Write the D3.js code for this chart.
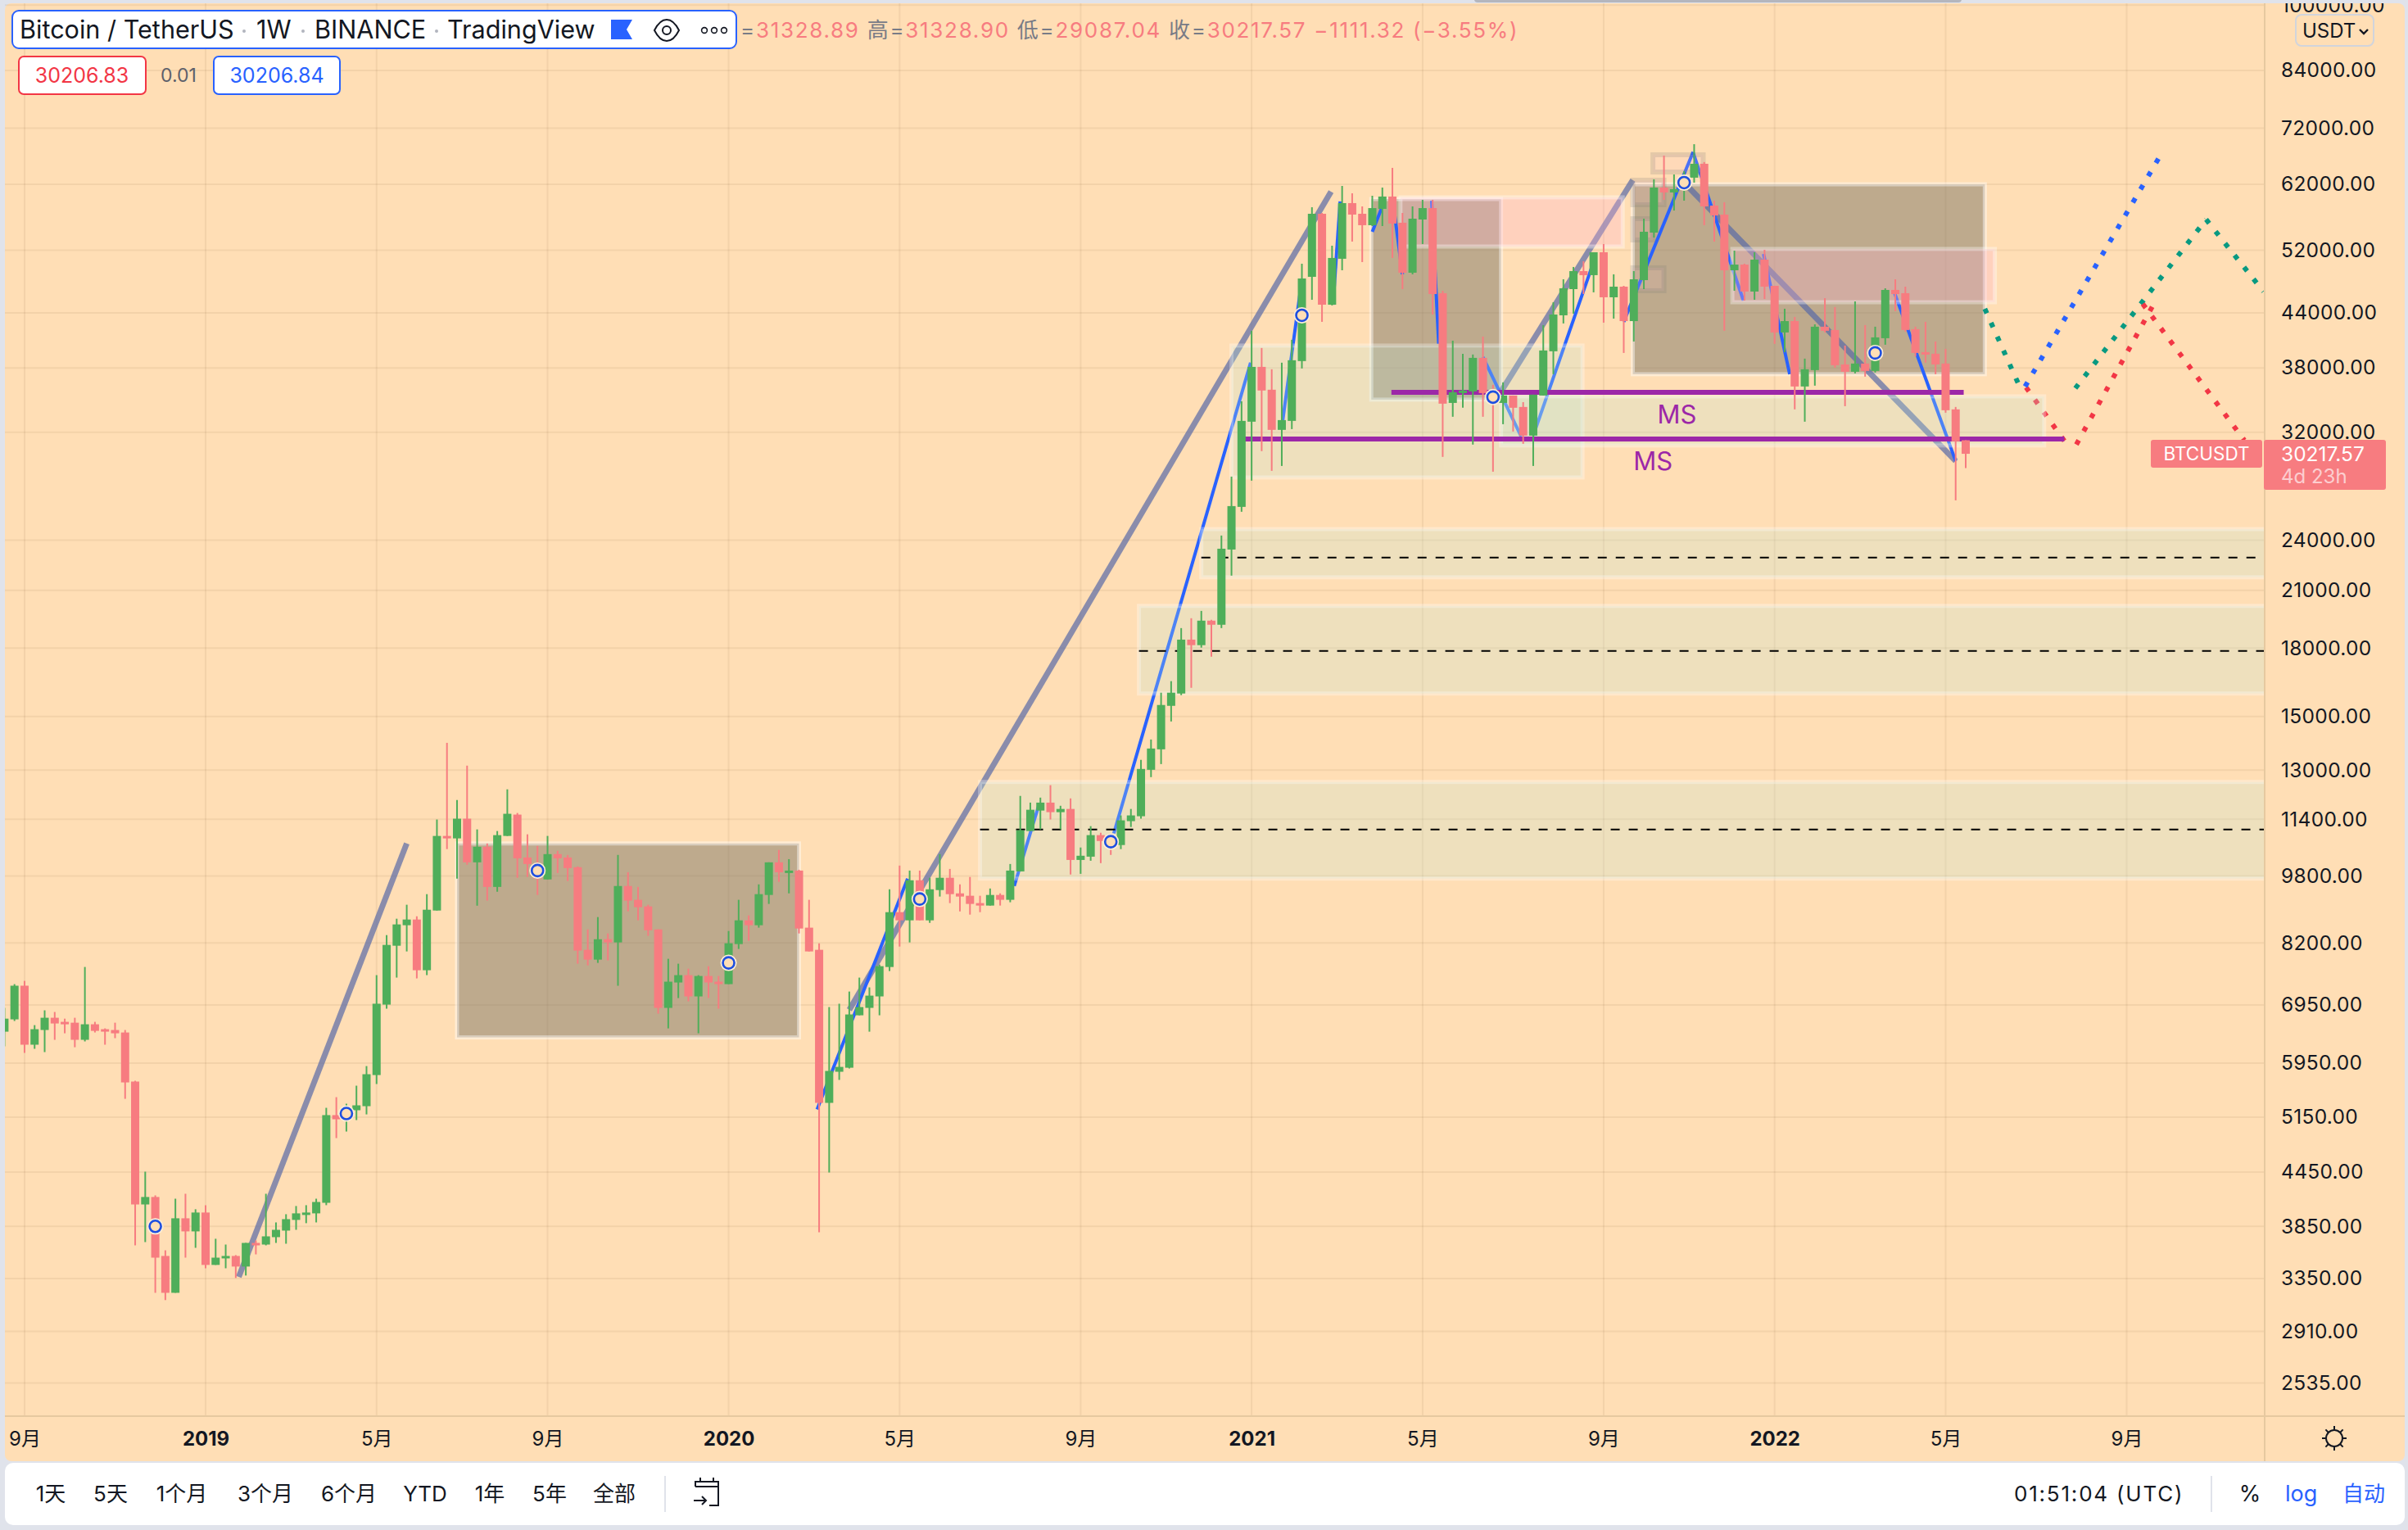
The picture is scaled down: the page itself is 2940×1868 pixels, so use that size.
<!DOCTYPE html>
<html>
<head>
<meta charset="utf-8">
<script src="https://cdnjs.cloudflare.com/ajax/libs/d3/7.8.5/d3.min.js"></script>
<style>
html, body { margin: 0; padding: 0; background: #e0e3eb; }
svg { display: block; }
text { font-family: Inter, "Noto Sans CJK SC", sans-serif; fill: #131722; }
</style>
</head>
<body>
<div id="chart"></div>
<script>
const WIDTH = 2940;
const HEIGHT = 1868;
const PLOT_LEFT = 6;
const PLOT_RIGHT = 2765;
const PLOT_TOP = 4;
const PLOT_BOTTOM = 1729;
const PANEL_RIGHT = 2936;
const PANEL_BOTTOM = 1784;

const BG = '#ffdeb5';
const GREEN = '#4fae5a';
const RED = '#f77c80';
const BLUE = '#2962ff';
const TEAL = '#089981';
const CRIMSON = '#f23645';
const PURPLE = '#9c27a8';

// weekly candles, one entry per week
const opens = [
  6471,6687,7315,6250,6500,6716,6643,6628,6332,6600,
  6514,6500,6457,5665,4082,4164,3558,3225,3934,3799,
  3995,3474,3535,3558,3459,3684,3668,3741,3807,3917,
  3977,3986,4100,5180,5135,5248,5305,5764,6955,8138,
  8595,8727,7623,8939,10906,10835,11420,10165,10597,9520,
  10906,11545,10298,10120,9712,10390,10298,10033,8050,7842,
  8280,8210,9543,9198,9038,8500,6895,7378,7524,7109,
  7507,7394,7346,8174,8708,8595,9318,10165,9900,9944,
  8540,8050,5352,5815,5878,6760,6895,7109,7689,8900,
  8708,9690,8708,9440,9755,9358,9298,9118,9058,9318,
  9198,9922,11050,11670,11920,11620,11720,10230,10320,10930,
  10860,10645,11345,11495,13010,13740,15430,15945,18410,18140,
  19365,19155,23410,26230,32920,38100,35850,32210,32990,38695,
  48445,57315,44975,50835,58970,57315,55595,58065,60010,55960,
  48980,56445,58190,46375,34610,35530,35690,39030,35690,34610,
  35300,34240,31720,35300,39720,43720,46880,49190,48660,51725,
  45870,47190,43050,48020,54510,61465,60670,61330,63110,65490,
  58580,57190,49300,50050,46580,50720,47295,41765,43050,36160,
  37775,42410,42040,38350,37610,38440,37690,41130,46780,46375,
  42130,39630,39460,38440,34020,31328.89
];
const highs = [
  6895,7346,7410,6585,6850,6820,6700,6716,7690,6643,
  6528,6628,6500,5677,4455,4182,3612,4145,4200,4030,
  4074,3725,3668,3566,3684,3708,4200,3891,3977,4065,
  4074,4145,5282,5434,5340,5603,5904,7524,8372,8746,
  9078,8803,9338,11395,13980,12000,13155,11098,10690,11050,
  12350,11595,10954,10620,10906,10483,10368,10055,8500,8784,
  8409,10368,9900,9520,9078,8500,7859,7757,7655,7524,
  7706,7507,8464,9198,8823,9585,10165,10506,10252,9966,
  9198,8192,6910,6972,7202,7475,7282,7740,9460,10077,
  9944,9944,9755,10390,9988,9585,9776,9298,9480,9358,
  10120,12135,11920,12080,12487,11820,12055,10575,11195,11000,
  10906,11520,11720,13360,14105,15980,16480,18985,19490,19875,
  19405,24300,28435,34760,41950,40070,37860,38530,40950,50170,
  58320,57440,52640,61730,60535,58450,60140,61465,64780,57440,
  58450,59480,59480,46680,40860,39460,39380,41310,36320,36560,
  35300,34685,35380,42590,45270,48125,49735,50500,51725,52870,
  48770,47295,49190,56570,62830,66930,63650,64210,69000,65790,
  59350,59100,51950,50170,51725,52060,47295,44490,43530,38950,
  42680,45770,44690,40330,45370,42590,42410,46985,48125,47190,
  42410,42965,40770,39980,34240,31328.90
];
const lows = [
  6222,6658,6115,6182,6128,6332,6443,6208,6305,6457,
  6250,6360,5410,3660,3692,3225,3163,3225,3542,3636,
  3443,3474,3443,3355,3377,3573,3660,3684,3676,3815,
  3883,3891,4074,4872,4958,5112,5190,5628,6880,7475,
  8015,7458,7524,8939,10530,9733,10100,9055,9178,9398,
  10906,9755,9776,9318,9712,9880,9670,7757,7723,7774,
  7825,7314,8920,8708,8355,6790,6528,7078,7016,6443,
  7078,6880,7346,8068,8245,8540,9098,9650,9358,8409,
  8015,3790,4445,5690,5866,6760,6471,6760,7606,8120,
  8210,8708,8650,9278,9118,8920,8842,8900,9058,9058,
  9138,9922,11050,11098,11395,11098,9840,9858,10208,10143,
  10368,10530,11170,11420,12758,13210,14800,15875,16190,18020,
  17590,18985,21835,25890,28130,30435,28875,29255,32275,37940,
  45570,42965,44880,49300,53220,50390,55470,55470,50945,46880,
  48765,52870,43815,29970,33355,34165,30970,33355,28810,32700,
  32070,31035,29255,35300,37365,42780,43910,46270,46480,42870,
  43335,39545,40770,46880,53800,59480,57810,59350,62280,55595,
  53220,41950,46680,45470,45570,45670,40510,39630,34020,32920,
  36240,41765,38020,34310,37445,37120,37530,40420,44200,41860,
  39200,38530,37365,33720,26690,29087.04
];
const closes = [
  6700,7315,6250,6514,6716,6614,6600,6332,6600,6485,
  6485,6443,5652,4082,4164,3542,3225,3934,3799,3995,
  3474,3542,3558,3459,3684,3668,3749,3815,3925,3986,
  3995,4109,5180,5123,5260,5317,5777,6972,8156,8614,
  8727,7623,8958,10906,10835,11420,10165,10597,9520,10930,
  11570,10275,10120,9733,10390,10275,10010,8033,7842,8280,
  8210,9543,9178,9018,8480,6895,7394,7524,7109,7507,
  7378,7346,8192,8708,8595,9338,10165,9900,9944,8520,
  8015,5352,5828,5891,6775,6910,7124,7706,8900,8708,
  9690,8708,9460,9755,9338,9278,9098,9058,9318,9198,
  9944,11074,11695,11920,11620,11720,10230,10345,10930,10760,
  10668,11370,11520,13040,13770,15465,15980,18410,18140,19365,
  19155,23460,26285,32990,38100,35775,32210,33060,38780,48230,
  57315,44975,50945,58970,57190,55595,58190,60010,55840,48980,
  56570,58190,46270,34540,35610,35770,39030,35530,34610,35300,
  34165,31720,35380,39805,43815,46985,49190,48660,51725,45870,
  47190,43050,48125,54630,61465,60670,61200,62960,65490,58450,
  57060,49300,50050,46580,50720,47190,41765,43050,36160,37860,
  42410,41950,38270,37610,38440,37690,41220,46780,46270,42040,
  39545,39380,38350,33940,31240,30217.57
];

const priceTicks = [100000,84000,72000,62000,52000,44000,38000,32000,24000,21000,18000,15000,13000,11400,9800,8200,6950,5950,5150,4450,3850,3350,2910,2535];
const timeTickBars = [2,20,37,54,72,89,107,124,141,159,176,193,211];
const timeTickLabels = ['9月','2019','5月','9月','2020','5月','9月','2021','5月','9月','2022','5月','9月'];

// drawings, as [start bar, end bar, top price, bottom price]
const brownBoxes = [[45,79,10690,6373],[135.9,148.8,59610,34915],[161.9,196.9,62000,37365]];
const yellowBoxes = [[122,156.9,40330,28370],[148.8,202.8,35220,30900],[119,226,24720,21740],[112.8,226,20140,15945],[97,226,12595,9733]];
const pinkBoxes = [[138.8,160.9,59880,52525],[171.8,197.9,52185,45270]];
const smallBoxes = [[163.9,168.9,67080,64070],[161.9,165,62690,58710],[161.9,163.9,56570,53450],[161.9,165,49630,46680]];

// drawings, as [start bar, start price, end bar, end price]
const greyLines = [
  [23.3,3365,40,10690],
  [84,6860,131.9,60800],
  [148.2,34760,161.9,62700],
  [167.1,62100,194,29640]
];
const blueLines = [
  [80.8,5260,89.8,9733],[100.4,9543,102.8,11795],[110.3,10980,123.9,38530],[127.1,33060,129,48120],
  [132.1,44975,132.8,59230],[136,54630,136.9,58065],[138.2,57440,139,48770],[141.9,59350,142.6,40510],
  [147,39120,150.8,31650],[152,31720,157.8,49630],[161,42970,167.9,67600],[167.9,67460,172.9,45470],
  [174.9,51500,177.5,37360],[187.9,46480,194,29640]
];
const blueDots = [[200.9,36160,214.2,66500]];
const tealDots = [[196.9,44490,200.5,35850],[205.9,35990,218.9,56450],[218.9,56450,224.6,46580]];
const redDots = [[201,36080,205.3,30700],[206,30970,213.7,45070],[212.6,45070,222.7,31330]];
const purpleLines = [[137.9,194.8,35600],[123.3,204.8,31440]];
const dashedLines = [[119,226,22910],[112.8,226,17860],[97,226,11098]];
const msBars = [166.3,163.9];
const msPrices = [33575,29640];
const markerBars = [15,34,53,72,91,110,129,148,167,186];
const markerPrices = [3850,5202,9944,7774,9218,10740,43720,35150,62280,39545];

const xScale = d3.scaleLinear().domain([0, 226]).range([5.4, 5.4 + 226 * 12.28]);
const yScale = d3.scaleLog().domain([84000, 3350]).range([86, 1561]);

const svg = d3.select('#chart').append('svg').attr('width', WIDTH).attr('height', HEIGHT);
const defs = svg.append('defs');
defs.append('clipPath').attr('id', 'plotClip').append('rect')
  .attr('x', PLOT_LEFT).attr('y', PLOT_TOP).attr('width', PLOT_RIGHT - PLOT_LEFT).attr('height', PLOT_BOTTOM - PLOT_TOP);
defs.append('clipPath').attr('id', 'panelClip').append('rect')
  .attr('x', PLOT_LEFT).attr('y', PLOT_TOP).attr('width', PANEL_RIGHT - PLOT_LEFT).attr('height', PANEL_BOTTOM - PLOT_TOP);

// something sits just above the screenshot
svg.append('rect').attr('x', 1800).attr('y', -6).attr('width', 595).attr('height', 9).attr('rx', 4).attr('fill', '#b4b6be');

// panels
svg.append('rect').attr('x', PLOT_LEFT).attr('y', PLOT_TOP).attr('width', PANEL_RIGHT - PLOT_LEFT)
  .attr('height', PANEL_BOTTOM - PLOT_TOP).attr('rx', 8).attr('fill', BG);
svg.append('rect').attr('x', PLOT_LEFT).attr('y', 1786).attr('width', PANEL_RIGHT - PLOT_LEFT)
  .attr('height', 76).attr('rx', 10).attr('fill', '#fff');

const plot = svg.append('g').attr('clip-path', 'url(#plotClip)');

// grid
plot.selectAll('.hgrid').data(priceTicks).enter().append('line').attr('class', 'hgrid')
  .attr('x1', PLOT_LEFT).attr('x2', PLOT_RIGHT)
  .attr('y1', d => yScale(d)).attr('y2', d => yScale(d))
  .attr('stroke', 'rgba(120,90,50,0.09)').attr('stroke-width', 2);
plot.selectAll('.vgrid').data(timeTickBars).enter().append('line').attr('class', 'vgrid')
  .attr('y1', PLOT_TOP).attr('y2', PLOT_BOTTOM)
  .attr('x1', d => xScale(d)).attr('x2', d => xScale(d))
  .attr('stroke', 'rgba(120,90,50,0.09)').attr('stroke-width', 2);

function drawBoxes(data, fill, stroke, strokeWidth) {
  plot.append('g').selectAll('rect').data(data).enter().append('rect')
    .attr('x', d => xScale(d[0]))
    .attr('y', d => yScale(d[2]))
    .attr('width', d => xScale(d[1]) - xScale(d[0]))
    .attr('height', d => yScale(d[3]) - yScale(d[2]))
    .attr('fill', fill)
    .attr('stroke', stroke)
    .attr('stroke-width', strokeWidth);
}

function drawSegments(data, color, width, dash) {
  plot.append('g').selectAll('line').data(data).enter().append('line')
    .attr('x1', d => xScale(d[0]))
    .attr('y1', d => yScale(d[1]))
    .attr('x2', d => xScale(d[2]))
    .attr('y2', d => yScale(d[3]))
    .attr('stroke', color)
    .attr('stroke-width', width)
    .attr('stroke-dasharray', dash || null);
}

drawBoxes(brownBoxes, 'rgba(125,118,101,0.5)', 'rgba(255,255,255,0.42)', 5);

drawSegments(greyLines, 'rgba(89,106,166,0.7)', 7);
drawSegments(blueLines, BLUE, 4);
drawSegments(tealDots, TEAL, 6, '6 12.6');
drawSegments(redDots, CRIMSON, 6, '6 12.6');
drawSegments(blueDots, BLUE, 6, '6 12.6');

drawBoxes(yellowBoxes, 'rgba(187,230,215,0.25)', 'rgba(255,255,255,0.3)', 5);
drawBoxes(pinkBoxes, 'rgba(255,179,209,0.3)', 'rgba(255,255,255,0.35)', 5);
drawBoxes(smallBoxes, 'rgba(255,190,200,0.16)', 'rgba(120,120,120,0.2)', 6);

// support lines
plot.append('g').selectAll('line').data(purpleLines).enter().append('line')
  .attr('x1', d => xScale(d[0])).attr('x2', d => xScale(d[1]))
  .attr('y1', d => yScale(d[2])).attr('y2', d => yScale(d[2]))
  .attr('stroke', PURPLE).attr('stroke-width', 6);
plot.append('g').selectAll('line').data(dashedLines).enter().append('line')
  .attr('x1', d => xScale(d[0])).attr('x2', d => xScale(d[1]))
  .attr('y1', d => yScale(d[2])).attr('y2', d => yScale(d[2]))
  .attr('stroke', '#000').attr('stroke-width', 2).attr('stroke-dasharray', '11 11');
plot.append('g').selectAll('text').data(msBars).enter().append('text')
  .attr('x', d => xScale(d)).attr('y', (d, i) => yScale(msPrices[i]))
  .attr('text-anchor', 'middle').attr('dominant-baseline', 'central')
  .attr('font-size', 31).style('fill', PURPLE).text('MS');

// candles
const candles = plot.append('g').selectAll('g').data(opens).enter().append('g')
  .attr('fill', (d, i) => closes[i] >= d ? GREEN : RED)
  .attr('stroke', (d, i) => closes[i] >= d ? GREEN : RED);
candles.append('line')
  .attr('x1', (d, i) => xScale(i)).attr('x2', (d, i) => xScale(i))
  .attr('y1', (d, i) => yScale(highs[i])).attr('y2', (d, i) => yScale(lows[i]))
  .attr('stroke-width', 2);
candles.append('rect')
  .attr('stroke', 'none')
  .attr('x', (d, i) => xScale(i) - 5)
  .attr('width', 10)
  .attr('y', (d, i) => yScale(Math.max(d, closes[i])))
  .attr('height', (d, i) => Math.max(3, yScale(Math.min(d, closes[i])) - yScale(Math.max(d, closes[i]))));

// markers on top of the candles
const markers = plot.append('g').selectAll('g').data(markerBars).enter().append('g')
  .attr('transform', (d, i) => `translate(${xScale(d)},${yScale(markerPrices[i])})`);
markers.append('circle').attr('r', 10).attr('fill', '#fdeed6');
markers.append('circle').attr('r', 7).attr('fill', BG).attr('stroke', '#1e4fe0').attr('stroke-width', 2.6);

// axes
svg.append('line').attr('x1', PLOT_RIGHT).attr('x2', PLOT_RIGHT).attr('y1', PLOT_TOP).attr('y2', PANEL_BOTTOM)
  .attr('stroke', '#e6c9a0').attr('stroke-width', 2);
svg.append('line').attr('x1', PLOT_LEFT).attr('x2', PANEL_RIGHT).attr('y1', PLOT_BOTTOM).attr('y2', PLOT_BOTTOM)
  .attr('stroke', '#e6c9a0').attr('stroke-width', 2);

const priceAxis = d3.axisRight(yScale).tickValues(priceTicks).tickSize(0).tickPadding(0)
  .tickFormat(d3.format('.2f'));
const priceGroup = svg.append('g').attr('clip-path', 'url(#panelClip)').append('g')
  .attr('transform', 'translate(2785,0)').call(priceAxis);
priceGroup.select('.domain').remove();
priceGroup.selectAll('text').attr('font-size', 24.5).attr('font-family', 'Inter').style('letter-spacing', '0.3px');

const timeAxis = d3.axisBottom(xScale).tickValues(timeTickBars).tickSize(0).tickPadding(0)
  .tickFormat((d, i) => timeTickLabels[i]);
const timeGroup = svg.append('g').attr('transform', `translate(0,${PLOT_BOTTOM})`).call(timeAxis);
timeGroup.select('.domain').remove();
timeGroup.selectAll('text').attr('y', 27).attr('dy', '0.36em').attr('font-size', 24)
  .attr('font-family', 'Inter, "Noto Sans CJK SC"')
  .attr('font-weight', (d, i) => timeTickLabels[i].length === 4 ? 700 : 400);

// legend box
svg.append('rect').attr('x', 15).attr('y', 13).attr('width', 884).attr('height', 46).attr('rx', 8)
  .attr('fill', '#fff').attr('stroke', BLUE).attr('stroke-width', 2);
const titleParts = [['Bitcoin / TetherUS', 24], ['1W', 313], ['BINANCE', 384], ['TradingView', 546]];
svg.append('g').selectAll('text').data(titleParts).enter().append('text')
  .attr('x', d => d[1]).attr('y', 47).attr('font-size', 30.6).text(d => d[0]);
svg.append('g').selectAll('circle').data([298, 370, 533]).enter().append('circle')
  .attr('cx', d => d).attr('cy', 38).attr('r', 2).attr('fill', '#b2b5be');
svg.append('path').attr('d', 'M746 24H772L765 36L772 48H746Z').attr('fill', BLUE);
svg.append('path').attr('d', 'M799 37C804 27 809 24 814 24C819 24 824 27 829 37C824 47 819 50 814 50C809 50 804 47 799 37Z')
  .attr('fill', 'none').attr('stroke', '#131722').attr('stroke-width', 2);
svg.append('circle').attr('cx', 814).attr('cy', 37).attr('r', 5).attr('fill', 'none').attr('stroke', '#131722').attr('stroke-width', 2);
svg.append('g').selectAll('circle').data([860, 872, 884]).enter().append('circle')
  .attr('cx', d => d).attr('cy', 37).attr('r', 3.4).attr('fill', 'none').attr('stroke', '#131722').attr('stroke-width', 1.6);

// ohlc readout
const ohlcParts = [['=', '#787b86'], ['31328.89', RED], [' 高=', '#787b86'], ['31328.90', RED], [' 低=', '#787b86'],
  ['29087.04', RED], [' 收=', '#787b86'], ['30217.57', RED], [' −1111.32 (−3.55%)', RED]];
svg.append('text').attr('x', 904).attr('y', 46).attr('font-size', 26).attr('xml:space', 'preserve')
  .style('letter-spacing', '1.7px')
  .selectAll('tspan').data(ohlcParts).enter().append('tspan').style('fill', d => d[1]).text(d => d[0]);

// bid / ask
svg.append('rect').attr('x', 23).attr('y', 69).attr('width', 155).attr('height', 46).attr('rx', 6)
  .attr('fill', '#fff').attr('stroke', CRIMSON).attr('stroke-width', 2);
svg.append('text').attr('x', 100).attr('y', 101).attr('text-anchor', 'middle').attr('font-size', 25).style('fill', CRIMSON).text('30206.83');
svg.append('text').attr('x', 218).attr('y', 100).attr('text-anchor', 'middle').attr('font-size', 23).style('fill', '#5d606b').text('0.01');
svg.append('rect').attr('x', 261).attr('y', 69).attr('width', 154).attr('height', 46).attr('rx', 6)
  .attr('fill', '#fff').attr('stroke', BLUE).attr('stroke-width', 2);
svg.append('text').attr('x', 338).attr('y', 101).attr('text-anchor', 'middle').attr('font-size', 25).style('fill', BLUE).text('30206.84');

// currency button
svg.append('rect').attr('x', 2803).attr('y', 18).attr('width', 95).attr('height', 38).attr('rx', 7)
  .attr('fill', BG).attr('stroke', '#d1d4dc').attr('stroke-width', 2);
svg.append('text').attr('x', 2811).attr('y', 46).attr('font-size', 24).text('USDT');
svg.append('path').attr('d', 'M2881 36L2886 41L2891 36').attr('fill', 'none').attr('stroke', '#131722').attr('stroke-width', 2.4);

// last price tag
const tagY = yScale(closes[closes.length - 1]);
svg.append('rect').attr('x', 2626).attr('y', tagY - 17).attr('width', 136).attr('height', 34).attr('rx', 3).attr('fill', RED);
svg.append('text').attr('x', 2694).attr('y', tagY + 8).attr('text-anchor', 'middle').attr('font-size', 22.5).style('fill', '#fff').text('BTCUSDT');
svg.append('rect').attr('x', 2764).attr('y', tagY - 17).attr('width', 149).attr('height', 61).attr('rx', 3).attr('fill', RED);
svg.append('text').attr('x', 2785).attr('y', tagY + 9).attr('font-size', 24.5).style('fill', '#fff').text('30217.57');
svg.append('text').attr('x', 2785).attr('y', tagY + 36).attr('font-size', 24).style('fill', 'rgba(255,255,255,0.65)').text('4d 23h');

// settings icon
svg.append('circle').attr('cx', 2850).attr('cy', 1756).attr('r', 10).attr('fill', 'none').attr('stroke', '#131722').attr('stroke-width', 2);
d3.range(8).forEach(k => {
  const a = k * Math.PI / 4;
  svg.append('line').attr('x1', 2850 + 10 * Math.cos(a)).attr('y1', 1756 + 10 * Math.sin(a))
    .attr('x2', 2850 + 15 * Math.cos(a)).attr('y2', 1756 + 15 * Math.sin(a))
    .attr('stroke', '#131722').attr('stroke-width', 2);
});

// bottom toolbar
const rangeLabels = ['1天','5天','1个月','3个月','6个月','YTD','1年','5年','全部'];
const rangeCentres = [62,135,222,324,426,519,598,671,750];
svg.append('g').selectAll('text').data(rangeLabels).enter().append('text')
  .attr('x', (d, i) => rangeCentres[i]).attr('y', 1833).attr('text-anchor', 'middle')
  .attr('font-size', 26).text(d => d);
svg.append('line').attr('x1', 812).attr('x2', 812).attr('y1', 1802).attr('y2', 1846).attr('stroke', '#e0e3eb').attr('stroke-width', 2);
svg.append('path').attr('d', 'M849 1815V1809H877V1838H866M855 1809V1804M871 1809V1804M849 1815H877M847 1832H862M857 1827L862 1832L857 1837')
  .attr('fill', 'none').attr('stroke', '#131722').attr('stroke-width', 2);
svg.append('text').attr('x', 2459).attr('y', 1833).attr('font-size', 26).style('letter-spacing', '1.8px').text('01:51:04 (UTC)');
svg.append('line').attr('x1', 2700).attr('x2', 2700).attr('y1', 1802).attr('y2', 1846).attr('stroke', '#e0e3eb').attr('stroke-width', 2);
svg.append('text').attr('x', 2747).attr('y', 1833).attr('text-anchor', 'middle').attr('font-size', 27).text('%');
svg.append('text').attr('x', 2790).attr('y', 1833).attr('font-size', 27).style('fill', BLUE).text('log');
svg.append('text').attr('x', 2860).attr('y', 1833).attr('font-size', 26).style('fill', BLUE).text('自动');
</script>
</body>
</html>
